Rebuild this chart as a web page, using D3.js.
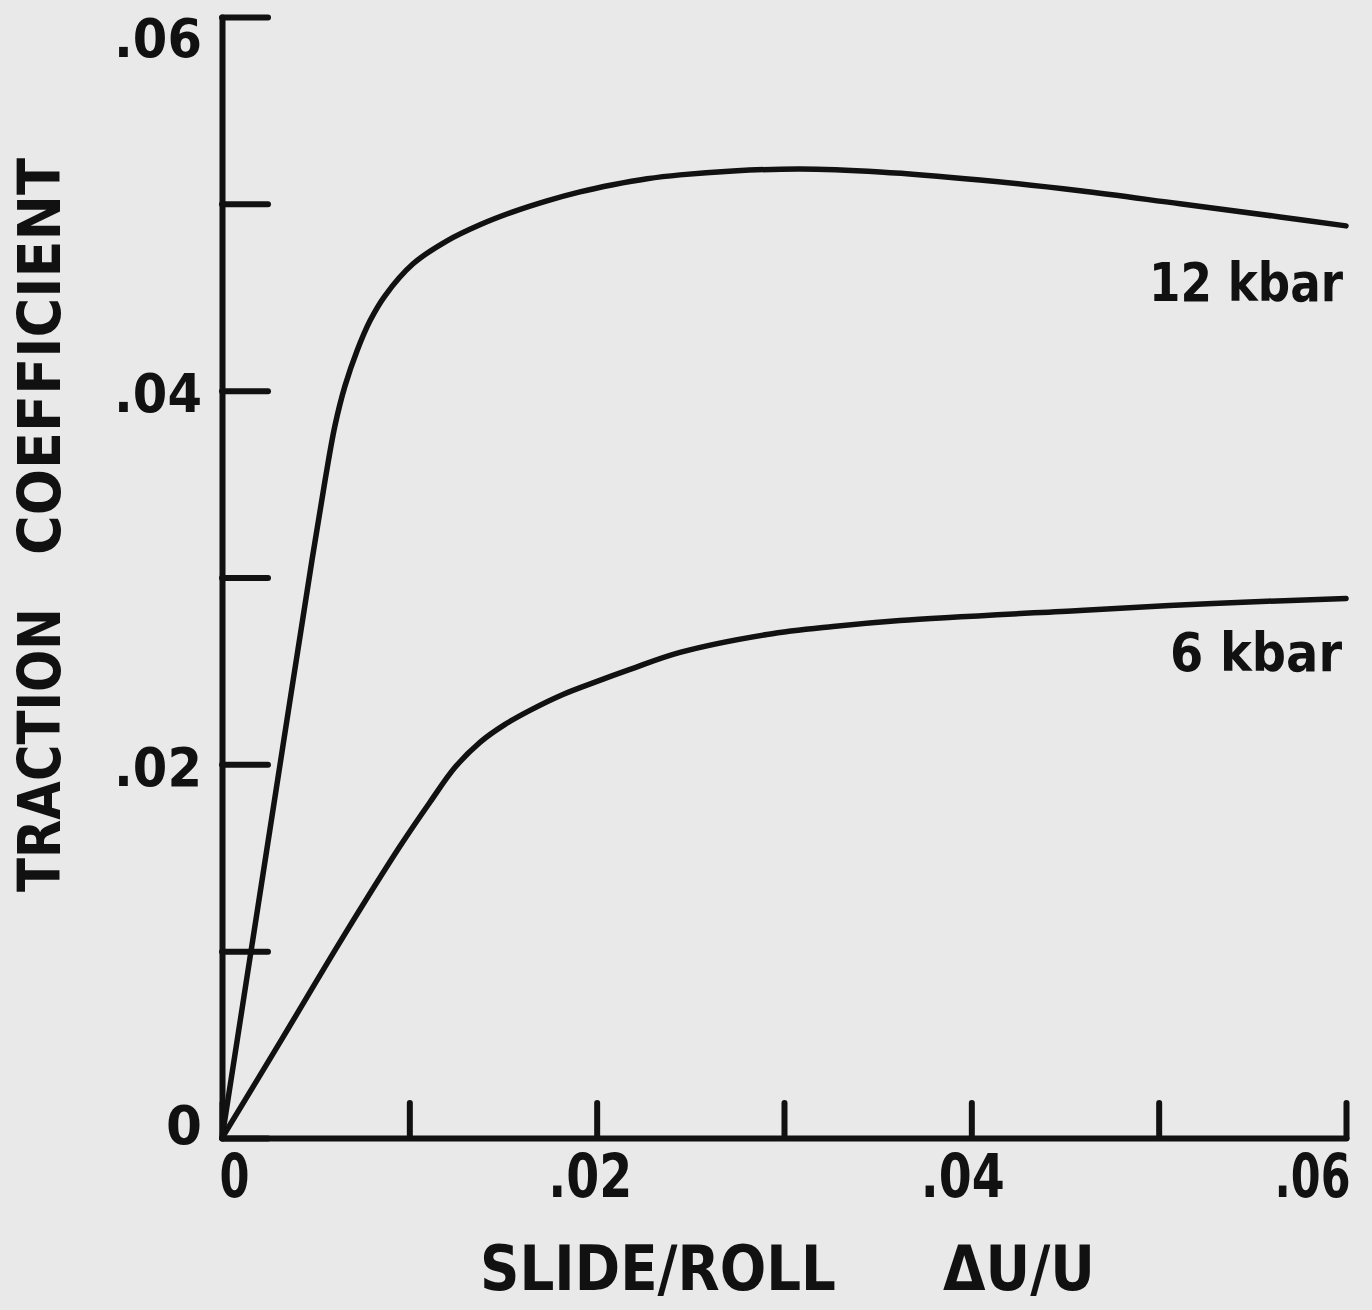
<!DOCTYPE html>
<html>
<head>
<meta charset="utf-8">
<script src="https://cdn.jsdelivr.net/npm/d3@7"></script>
<style>
  body { margin: 0; background: #e9e9e9; }
  svg { display: block; }
  text { font-family: "DejaVu Sans", sans-serif; font-weight: bold; fill: #111; }
</style>
</head>
<body>
<svg id="canvas"></svg>
<script>
// slide/roll (du/u) vs traction coefficient
const slide12 = [0, 0.00203, 0.00363, 0.0048, 0.0055, 0.00603, 0.00657, 0.00721, 0.0079, 0.0087,
  0.0102, 0.01201, 0.01377, 0.01553, 0.01735, 0.01911, 0.02087, 0.02269, 0.02445, 0.02728,
  0.03085, 0.03512, 0.04046, 0.0458, 0.05114, 0.05648, 0.06];
const traction12 = [0, 0.0131, 0.02342, 0.03091, 0.03519, 0.03813, 0.04027, 0.04214, 0.04374, 0.04508,
  0.04679, 0.04802, 0.04888, 0.04957, 0.05016, 0.05064, 0.05102, 0.05134, 0.05155, 0.05176,
  0.05187, 0.05171, 0.05128, 0.0507, 0.05, 0.0493, 0.04882];

const slide6 = [0, 0.00326, 0.00646, 0.0095, 0.0111, 0.01244, 0.01377, 0.01511, 0.01644, 0.0182,
  0.02002, 0.02178, 0.02445, 0.02909, 0.03262, 0.03619, 0.0458, 0.0529, 0.06];
const traction6 = [0, 0.0054, 0.01075, 0.01561, 0.01797, 0.01984, 0.02118, 0.02214, 0.02289, 0.02374,
  0.02444, 0.02508, 0.02599, 0.02695, 0.02738, 0.0277, 0.02824, 0.02861, 0.02888];

const seriesNames = ["12 kbar", "6 kbar"];
const yTicks = [0, 0.01, 0.02, 0.03, 0.04, 0.05, 0.06];
const xTicks = [0, 0.01, 0.02, 0.03, 0.04, 0.05, 0.06];
const labelledTicks = [0, 0.02, 0.04, 0.06];

const width = 1372;
const height = 1310;

const canvas = d3.select('#canvas').attr('width', width).attr('height', height);

const xScale = d3.scaleLinear().domain([0, 0.06]).range([222, 1346]);
const yScale = d3.scaleLinear().domain([0, 0.06]).range([1138, 17]);

const fmt = v => {
    if (!labelledTicks.some(t => Math.abs(t - v) < 1e-9)) return '';
    return v === 0 ? '0' : d3.format('.2f')(v).replace(/^0/, '');
};

// y axis: ticks point inward
const yAxis = d3.axisLeft(yScale)
    .tickValues(yTicks)
    .tickSizeInner(-46)
    .tickSizeOuter(0)
    .tickPadding(20)
    .tickFormat(fmt);

const gy = canvas.append('g')
    .attr('id', 'y-axis')
    .attr('transform', 'translate(222,0)')
    .call(yAxis);

const yShift = {0: -14, 0.02: 2, 0.04: 2, 0.06: 20};
gy.selectAll('.tick text')
    .style('font-size', '54px')
    .attr('dy', d => (yShift[d] || 0) + 19)
    .attr('textLength', d => d === 0 ? 36 : 88)
    .attr('lengthAdjust', 'spacingAndGlyphs');

// x axis: ticks point upward
const xAxis = d3.axisBottom(xScale)
    .tickValues(xTicks)
    .tickSizeInner(-35)
    .tickSizeOuter(0)
    .tickPadding(16)
    .tickFormat(fmt);

const gx = canvas.append('g')
    .attr('id', 'x-axis')
    .attr('transform', 'translate(0,1138)')
    .call(xAxis);

const xShift = {0: 12, 0.02: -7, 0.04: -9, 0.06: -34};
const xLen = {0: 30, 0.02: 84, 0.04: 84, 0.06: 76};
gx.selectAll('.tick text')
    .style('font-size', '60px')
    .attr('dx', d => xShift[d] || 0)
    .attr('textLength', d => xLen[d] || 0)
    .attr('lengthAdjust', 'spacingAndGlyphs');

canvas.selectAll('.domain, .tick line')
    .attr('stroke', '#111')
    .attr('stroke-width', 6)
    .attr('stroke-linecap', 'round');

// curves
const line = d3.line()
    .x(d => xScale(d[0]))
    .y(d => yScale(d[1]))
    .curve(d3.curveCatmullRom.alpha(0.5));

const series = [
    d3.zip(slide12, traction12),
    d3.zip(slide6, traction6)
];

canvas.selectAll('path.curve')
    .data(series)
    .enter()
    .append('path')
    .attr('class', 'curve')
    .attr('d', line)
    .attr('fill', 'none')
    .attr('stroke', '#111')
    .attr('stroke-width', 5.5)
    .attr('stroke-linecap', 'round');

// curve labels
canvas.append('text')
    .attr('x', 1343).attr('y', 301)
    .attr('text-anchor', 'end')
    .style('font-size', '54px')
    .attr('textLength', 194)
    .attr('lengthAdjust', 'spacingAndGlyphs')
    .text(seriesNames[0]);

canvas.append('text')
    .attr('x', 1342).attr('y', 671)
    .attr('text-anchor', 'end')
    .style('font-size', '54px')
    .attr('textLength', 172)
    .attr('lengthAdjust', 'spacingAndGlyphs')
    .text(seriesNames[1]);

// axis titles
canvas.append('text')
    .attr('transform', 'translate(60,892) rotate(-90)')
    .style('font-size', '58px')
    .attr('textLength', 284)
    .attr('lengthAdjust', 'spacingAndGlyphs')
    .text('TRACTION');

canvas.append('text')
    .attr('transform', 'translate(60,555) rotate(-90)')
    .style('font-size', '58px')
    .attr('textLength', 397)
    .attr('lengthAdjust', 'spacingAndGlyphs')
    .text('COEFFICIENT');

canvas.append('text')
    .attr('x', 480).attr('y', 1290)
    .style('font-size', '62px')
    .attr('textLength', 356)
    .attr('lengthAdjust', 'spacingAndGlyphs')
    .text('SLIDE/ROLL');

canvas.append('text')
    .attr('x', 943).attr('y', 1290)
    .style('font-size', '62px')
    .attr('textLength', 152)
    .attr('lengthAdjust', 'spacingAndGlyphs')
    .text('ΔU/U');
</script>
</body>
</html>
